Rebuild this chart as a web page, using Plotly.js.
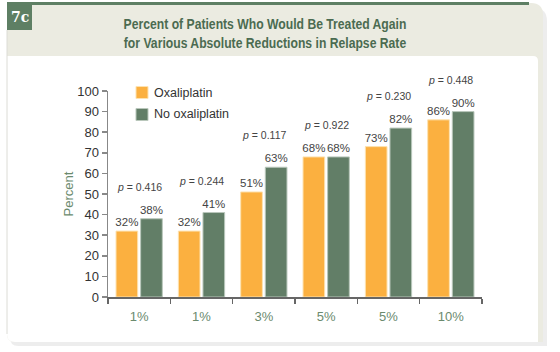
<!DOCTYPE html>
<html>
<head>
<meta charset="utf-8">
<script src="https://cdn.plot.ly/plotly-3.0.1.min.js"></script>
<style>
html,body{margin:0;padding:0;background:#fff;}
#chart{width:560px;height:352px;}
</style>
</head>
<body>
<div id="chart"></div>
<script>
// ---- data ----
var categories = ["1%", "1%", "3%", "5%", "5%", "10%"];
var oxaliplatin = [32, 32, 51, 68, 73, 86];
var noOxaliplatin = [38, 41, 63, 68, 82, 90];
var pValues = ["0.416", "0.244", "0.117", "0.922", "0.230", "0.448"];
var yTicks = [0, 10, 20, 30, 40, 50, 60, 70, 80, 90, 100];
var seriesNames = ["Oxaliplatin", "No oxaliplatin"];

// ---- geometry ----
var W = 560, H = 352;
var mL = 108, mR = 78, mT = 91, mB = 55;
var pw = W - mL - mR, ph = H - mT - mB;
function px(x){ return (x - mL) / pw; }
function py(y){ return (H - mB - y) / ph; }
function P(x, y){ return px(x).toFixed(5) + "," + py(y).toFixed(5); }

var idx = categories.map(function(_, i){ return i; });
var bounds = [];
for (var i = 0; i <= categories.length; i++) bounds.push(i - 0.5);

var ORANGE = "#fbb040", GREEN = "#627e67", DKGREEN = "#5e7f64", BEIGE = "#ebebe1";
var colors = [ORANGE, GREEN];
var edge = ["#fde2b0", "#b9c7bb"];
var FONT = "Liberation Sans, Arial, sans-serif";

var traces = [oxaliplatin, noOxaliplatin].map(function(vals, k){
  return {
    type: "bar", name: seriesNames[k], x: idx, y: vals,
    marker: {color: colors[k], line: {color: edge[k], width: 1}},
    texttemplate: "%{y}%", textposition: "outside", cliponaxis: false,
    constraintext: "none",
    textfont: {family: FONT, size: 11.5, color: "#444"},
    hoverinfo: "skip", showlegend: false
  };
});

var shapes = [
  // shadow
  {type: "path", xref: "paper", yref: "paper", layer: "below",
   path: "M" + P(10, 8) + " L" + P(534, 8) + " Q" + P(547, 8) + " " + P(547, 21) +
         " L" + P(547, 346) + " L" + P(18, 346) + " Q" + P(10, 346) + " " + P(10, 338) + " Z",
   fillcolor: "rgba(0,0,0,0.07)", line: {width: 0}},
  // beige card
  {type: "path", xref: "paper", yref: "paper", layer: "below",
   path: "M" + P(7, 3) + " L" + P(531, 3) + " Q" + P(543, 3) + " " + P(543, 15) +
         " L" + P(543, 342) + " L" + P(15, 342) + " Q" + P(7, 342) + " " + P(7, 334) + " Z",
   fillcolor: BEIGE, line: {width: 0}},
  // white inner panel
  {type: "path", xref: "paper", yref: "paper", layer: "below",
   path: "M" + P(7, 56) + " L" + P(533, 56) + " Q" + P(538, 56) + " " + P(538, 61) +
         " L" + P(538, 342) + " L" + P(15, 342) + " Q" + P(7, 342) + " " + P(7, 334) + " Z",
   fillcolor: "#ffffff", line: {width: 0}},
  // left light edge
  {type: "line", xref: "paper", yref: "paper", layer: "below",
   x0: px(7), x1: px(7), y0: py(30), y1: py(334), line: {color: "#dcdcd6", width: 1}},
  // top green line
  {type: "rect", xref: "paper", yref: "paper", layer: "below",
   x0: px(7), x1: px(529), y0: py(2), y1: py(5), fillcolor: DKGREEN, line: {width: 0}},
  // badge
  {type: "rect", xref: "paper", yref: "paper", layer: "below",
   x0: px(7), x1: px(32), y0: py(4), y1: py(30), fillcolor: DKGREEN, line: {width: 0}}
];

var annotations = [
  {xref: "paper", yref: "paper", x: px(19.5), y: py(17), text: "<b>7c</b>", showarrow: false,
   font: {family: "DejaVu Serif, Liberation Serif, serif", size: 14, color: "#ffffff"},
   xanchor: "center", yanchor: "middle"}
];

// custom legend (swatch + label)
seriesNames.forEach(function(name, k){
  var cy = 92.5 + k * 22;
  shapes.push({type: "rect", xref: "paper", yref: "paper", layer: "above",
    x0: px(136), x1: px(148), y0: py(cy - 6), y1: py(cy + 6),
    fillcolor: colors[k], line: {color: edge[k], width: 1}});
  annotations.push({xref: "paper", yref: "paper", x: px(151.5), y: py(cy),
    text: name, showarrow: false, xanchor: "left", yanchor: "middle",
    font: {family: FONT, size: 12.5, color: "#333"}});
});

pValues.forEach(function(p, i){
  annotations.push({
    x: idx[i], y: Math.max(oxaliplatin[i], noOxaliplatin[i]), yshift: 32,
    text: "<i>p</i> = " + p, showarrow: false,
    font: {family: FONT, size: 10.5, color: "#444"},
    xanchor: "center", yanchor: "middle"
  });
});

var layout = {
  width: W, height: H,
  margin: {l: mL, r: mR, t: mT, b: mB, pad: 0},
  paper_bgcolor: "#ffffff",
  plot_bgcolor: "rgba(0,0,0,0)",
  barmode: "group", bargap: 0.21, bargroupgap: 0.12,
  showlegend: false,
  title: {
    text: "Percent of Patients Who Would Be Treated Again<br>for Various Absolute Reductions in Relapse Rate",
    font: {family: "Liberation Sans Narrow, Arial Narrow, Liberation Sans, sans-serif", size: 15, color: "#4b6b51", weight: "bold"},
    x: 265 / W, xanchor: "center", xref: "container",
    y: 1 - 29 / H, yanchor: "top", yref: "container"
  },
  xaxis: {
    range: [-0.5, categories.length - 0.5],
    tickmode: "array", tickvals: idx, ticktext: categories,
    ticks: "", showgrid: false, zeroline: false,
    showline: true, linecolor: "#666", linewidth: 1.5,
    ticklabelstandoff: 7,
    tickfont: {family: FONT, size: 13, color: "#6b8a6e"},
    minor: {tickmode: "array", tickvals: bounds, ticks: "outside", ticklen: 5, tickcolor: "#666", tickwidth: 1.5, showgrid: false},
    fixedrange: true
  },
  yaxis: {
    range: [0, 100], tickmode: "array", tickvals: yTicks,
    ticks: "outside", ticklen: 5, tickcolor: "#888", tickwidth: 1.5,
    showline: true, linecolor: "#888", linewidth: 1.5,
    showgrid: false, zeroline: false,
    tickfont: {family: FONT, size: 13, color: "#333"},
    title: {text: "Percent", standoff: 0,
      font: {family: FONT, size: 13, color: "#6b8a6e"}},
    fixedrange: true
  },
  shapes: shapes,
  annotations: annotations
};

Plotly.newPlot("chart", traces, layout, {displayModeBar: false, staticPlot: true}).then(function(gd){
  // condense the title horizontally to mimic the condensed face of the original
  var t = gd.querySelector(".gtitle");
  if (t) {
    var bb = t.getBBox();
    var target = 283;
    if (bb.width > target) {
      var s = target / bb.width;
      var cx = bb.x + bb.width / 2;
      var prev = t.getAttribute("transform") || "";
      t.setAttribute("transform", prev + " translate(" + cx + ",0) scale(" + s + ",1) translate(" + (-cx) + ",0)");
    }
  }
});
</script>
</body>
</html>
